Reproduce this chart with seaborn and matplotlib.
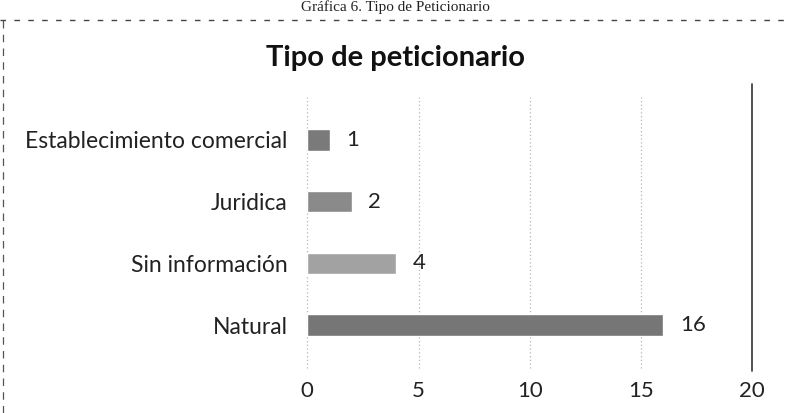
import matplotlib
matplotlib.use("Agg")
import matplotlib.pyplot as plt
import seaborn as sns
import pandas as pd

# ================================
# DATA
# ================================
categories = ["Establecimiento comercial", "Juridica", "Sin información", "Natural"]
values = [1, 2, 4, 16]
x_ticks = [0, 5, 10, 15, 20]
bar_colors = ["#7a7a7a", "#8a8a8a", "#a2a2a2", "#767676"]

df = pd.DataFrame({"tipo": categories, "cantidad": values})

sns.set_style("white")
plt.rcParams["font.family"] = ["Lato", "DejaVu Sans"]

fig = plt.figure(figsize=(7.9, 4.13), dpi=100)
ax = fig.add_axes([0.389, 0.138, 0.563, 0.598])

sns.barplot(data=df, x="cantidad", y="tipo", hue="tipo", palette=bar_colors,
            legend=False, width=0.35, ax=ax, orient="h")

for c in ax.containers:
    ax.bar_label(c, padding=12, fontsize=16, color="#222222")

ax.set_xlim(0, 20)
ax.set_xticks(x_ticks)
ax.set_xticklabels([str(t) for t in x_ticks], fontsize=16, color="#222222")
ax.tick_params(axis="x", length=0, pad=18)
ax.tick_params(axis="y", length=0, pad=14, labelsize=16.5, labelcolor="#222222")
ax.set_xlabel("")
ax.set_ylabel("")

for t in x_ticks[:-1]:
    ax.axvline(t, ymin=-0.05, ymax=1.05, clip_on=False, color="#b5b5b5",
               linestyle=(0, (1, 2)), linewidth=0.9, zorder=0)
ax.axvline(20, ymin=-0.06, ymax=1.1, clip_on=False, color="#333333",
           linewidth=1.2, zorder=0)

for s in ax.spines.values():
    s.set_visible(False)

# title of chart
fig.text(0.5, 0.86, "Tipo de peticionario", ha="center", va="center",
         fontsize=21, fontweight="bold", color="#111111")

# scanned caption at the top and dashed border
fig.text(0.5, 0.999, "Gráfica 6. Tipo de Peticionario", ha="center", va="top",
         fontsize=11, family=["Liberation Serif", "DejaVu Serif"], color="#222222")
fig.add_artist(plt.Line2D([0.0, 1.0], [0.952, 0.952], color="#444444",
                          linestyle=(0, (4, 6)), linewidth=1.0))
fig.add_artist(plt.Line2D([0.004, 0.004], [0.0, 0.952], color="#555555",
                          linestyle=(0, (6, 5)), linewidth=0.9))

plt.savefig("out.png", dpi=100)
